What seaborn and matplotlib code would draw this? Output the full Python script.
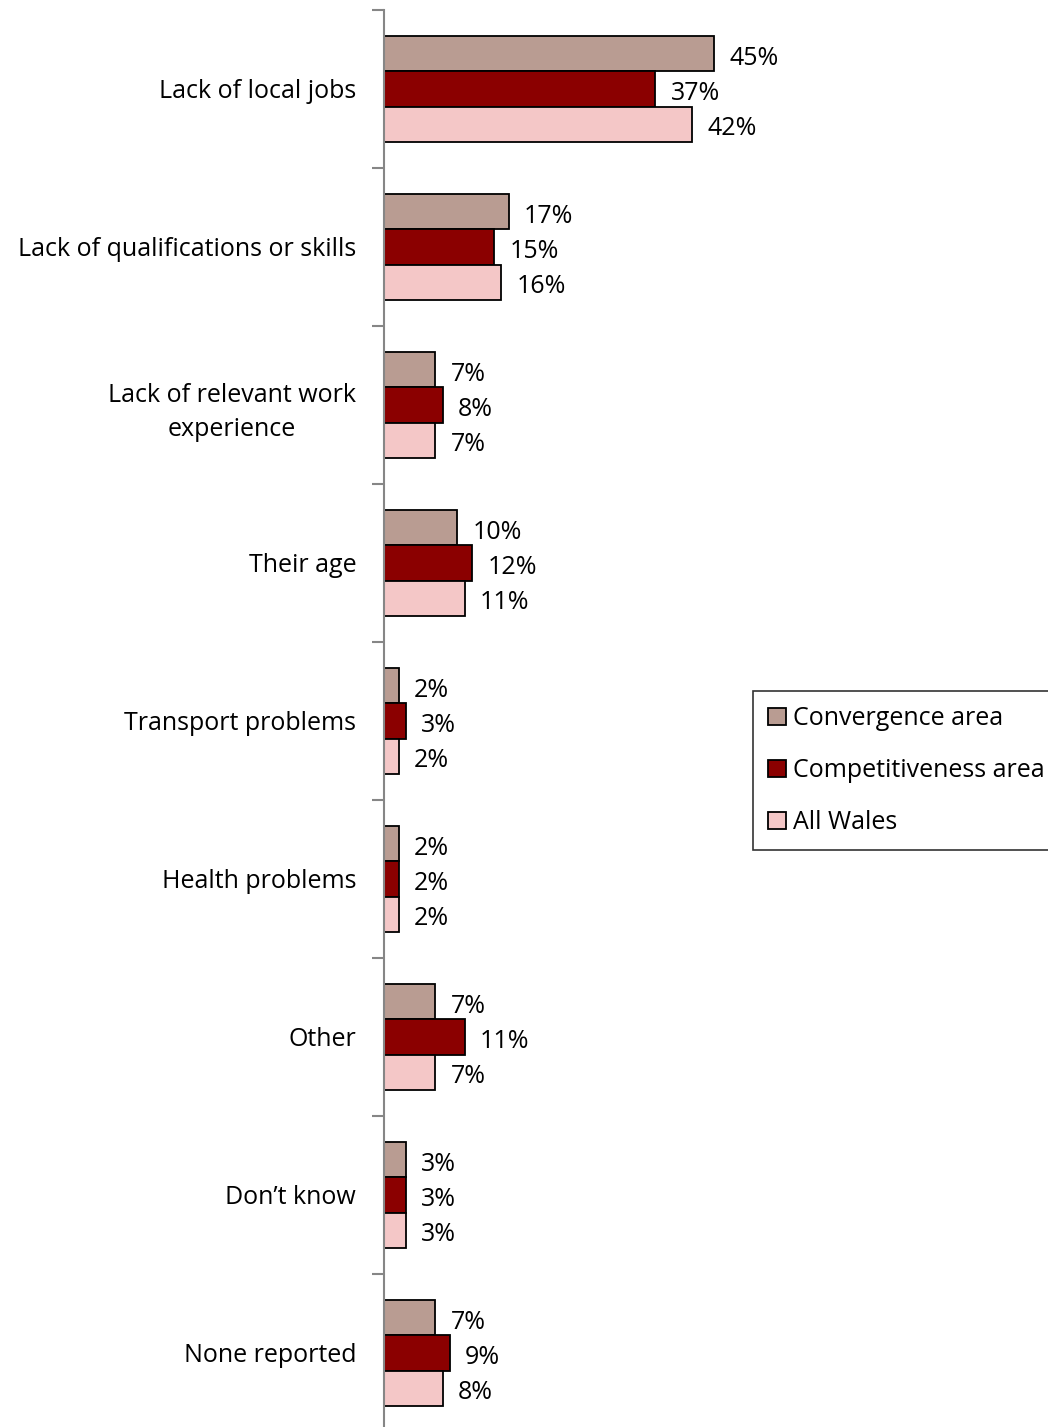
import pandas as pd
import matplotlib.pyplot as plt
import seaborn as sns

# ---- data ----
categories = [
    'Lack of local jobs',
    'Lack of qualifications or skills',
    'Lack of relevant work\nexperience',
    'Their age',
    'Transport problems',
    'Health problems',
    'Other',
    'Don\u2019t know',
    'None reported',
]
series = ['Convergence area', 'Competitiveness area', 'All Wales']
convergence = [45, 17, 7, 10, 2, 2, 7, 3, 7]
competitiveness = [37, 15, 8, 12, 3, 2, 11, 3, 9]
all_wales = [42, 16, 7, 11, 2, 2, 7, 3, 8]
colours = ['#B99C92', '#8B0000', '#F4C7C7']

df = pd.DataFrame({
    'category': categories * 3,
    'series': [s for s in series for _ in categories],
    'value': convergence + competitiveness + all_wales,
})

sns.set_theme(style='white')
plt.rcParams['font.family'] = ['Open Sans', 'DejaVu Sans']
plt.rcParams['text.color'] = 'black'
plt.rcParams['ytick.color'] = 'black'
FS = 18

fig = plt.figure(figsize=(10.48, 14.27), dpi=100)
ax = fig.add_axes([384 / 1048, -5 / 1427, 664 / 1048, 1422 / 1427])

sns.barplot(data=df, y='category', x='value', hue='series', order=categories,
            hue_order=series, palette=colours, saturation=1, orient='h', width=0.665,
            edgecolor='black', linewidth=1.3, ax=ax, legend=True)

# value labels, nudged a little below the bar centre like the original
for c in ax.containers:
    anns = ax.bar_label(c, labels=[f'{v:.0f}%' for v in c.datavalues], padding=11,
                        fontsize=FS, color='black')
    for a in anns:
        a.xyann = (11, -3.5)

ax.set_xlim(0, 90.6)
ax.set_ylim(len(categories) - 0.5, -0.5)
ax.set_xlabel('')
ax.set_ylabel('')
ax.set_xticks([])

for side in ['top', 'right', 'bottom']:
    ax.spines[side].set_visible(False)
ax.spines['left'].set_color('#868686')
ax.spines['left'].set_linewidth(1.5)

# category labels at centres, tick marks at boundaries
ax.tick_params(axis='y', which='major', left=False, length=0, pad=20, labelsize=FS,
               labelcolor='black')
ax.set_yticks([i - 0.5 for i in range(len(categories) + 1)], minor=True)
ax.tick_params(axis='y', which='minor', left=True, length=9, width=1.5,
               color='#868686', direction='out')
for lbl in ax.get_yticklabels():
    lbl.set_multialignment('center')
    lbl.set_linespacing(1.45)

leg = ax.legend(loc='upper left', bbox_to_anchor=(753 / 1048, 1 - 691 / 1427),
                bbox_transform=fig.transFigure, fontsize=FS, frameon=True,
                fancybox=False, edgecolor='black', handlelength=0.7,
                handleheight=0.7, handletextpad=0.3, labelspacing=1.08,
                borderpad=0.6, borderaxespad=0)
leg.get_frame().set_linewidth(1.2)

fig.savefig('out.png', dpi=100)
